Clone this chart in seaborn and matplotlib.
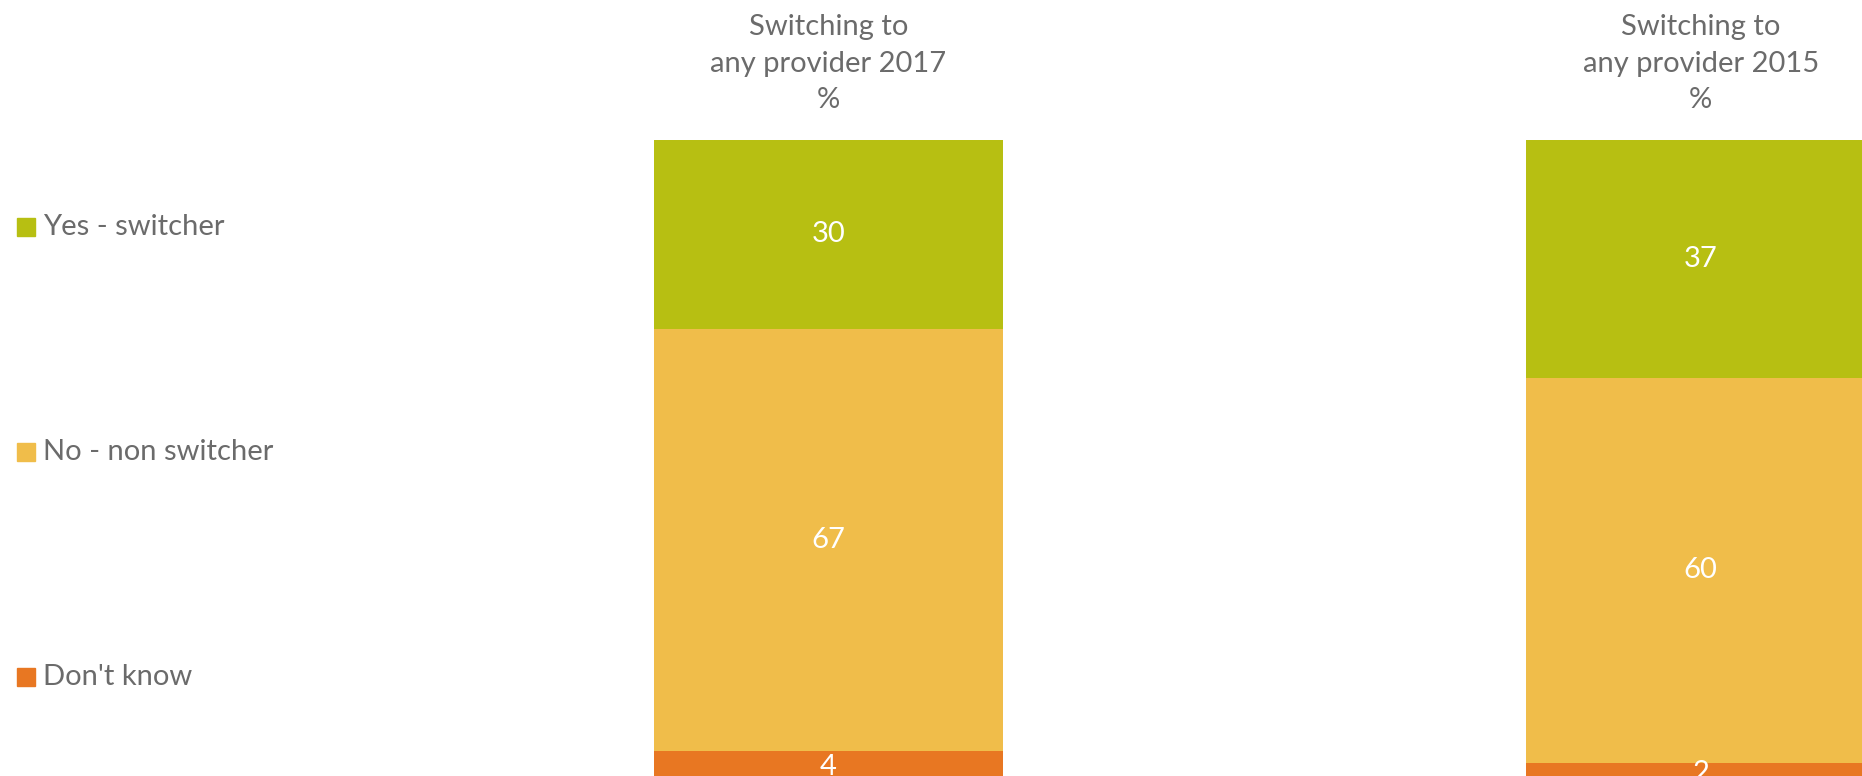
import matplotlib
matplotlib.use("Agg")
import matplotlib.pyplot as plt
from matplotlib.patches import Rectangle
import seaborn as sns
import pandas as pd

# Survey results: share of respondents per answer, by survey year
periods = ["Switching to\nany provider 2017\n%", "Switching to\nany provider 2015\n%"]
answers = ["Yes - switcher", "No - non switcher", "Don't know"]
yes_switcher = [30, 37]
no_non_switcher = [67, 60]
dont_know = [4, 2]

colors = {"Yes - switcher": "#B7BF12", "No - non switcher": "#F0BD4A", "Don't know": "#E87722"}
text_grey = "#6B6B6B"

sns.set_theme(style="white")
plt.rcParams["font.family"] = ["Lato", "DejaVu Sans"]

df = pd.DataFrame({
    "period": periods,
    "Yes - switcher": yes_switcher,
    "No - non switcher": no_non_switcher,
    "Don't know": dont_know,
})
# 100% stacked: scale each column by its own total
df["total"] = df[answers].sum(axis=1)
for a in answers:
    df[a + "_pct"] = df[a] / df["total"] * 100
df["top_yes"] = df["Yes - switcher_pct"] + df["No - non switcher_pct"] + df["Don't know_pct"]
df["top_no"] = df["No - non switcher_pct"] + df["Don't know_pct"]
df["top_dk"] = df["Don't know_pct"]

fig = plt.figure(figsize=(18.62, 7.76), dpi=100)
ax = fig.add_axes([0, 0, 1, 1])

for col, ans in [("top_yes", "Yes - switcher"), ("top_no", "No - non switcher"), ("top_dk", "Don't know")]:
    sns.barplot(data=df, x="period", y=col, order=periods, color=colors[ans],
                width=0.4, saturation=1, linewidth=0, ax=ax)

# value labels centred in each segment
for i, row in df.iterrows():
    segs = [
        (row["top_dk"] - row["Don't know_pct"] / 2 - 0.6, row["Don't know"]),
        (row["top_no"] - row["No - non switcher_pct"] / 2, row["No - non switcher"]),
        (row["top_yes"] - row["Yes - switcher_pct"] / 2, row["Yes - switcher"]),
    ]
    for y, v in segs:
        ax.text(i, y, f"{v}", ha="center", va="center", color="white", fontsize=21)
    # column heading above the bar
    ax.text(i, row["top_yes"] + 4.2, row["period"], ha="center", va="bottom",
            color=text_grey, fontsize=21, linespacing=1.5)

ax.set_xlim(-0.950, 1.185)
ax.set_ylim(0, 122.0)
ax.set_axis_off()

# legend on the left
W, H = 1862, 776
legend_y = [227, 452, 677]
for ans, yc in zip(answers, legend_y):
    fig.patches.append(Rectangle((17 / W, 1 - (yc + 9) / H), 18 / W, 18 / H,
                                 transform=fig.transFigure, color=colors[ans]))
    fig.text(43 / W, 1 - yc / H, ans, ha="left", va="center", color=text_grey, fontsize=21)

fig.savefig("out.png", dpi=100)
